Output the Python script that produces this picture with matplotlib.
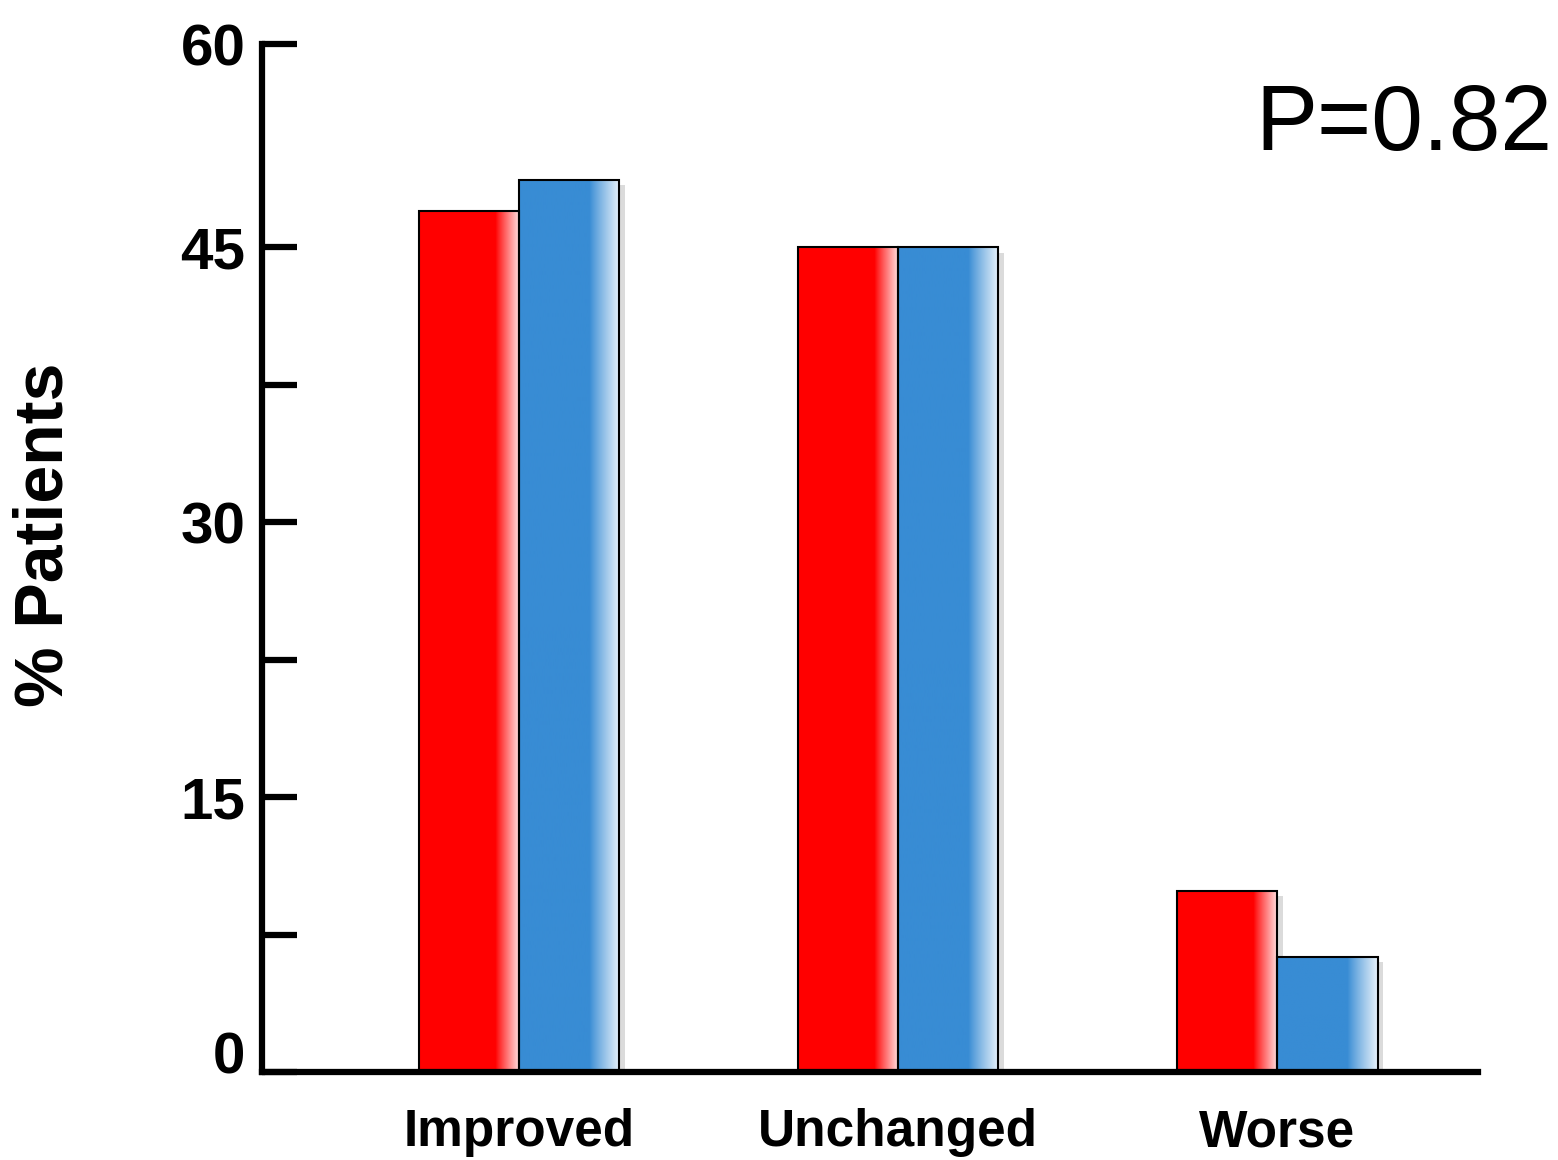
import numpy as np
import matplotlib.pyplot as plt
import matplotlib.patheffects as pe
import matplotlib.transforms as mtransforms

plt.rcParams['font.family'] = ['Liberation Sans', 'DejaVu Sans']

# Data
categories = ['Improved', 'Unchanged', 'Worse']
red_vals = [47.0, 45.0, 9.9]
blue_vals = [48.7, 45.0, 6.3]
p_text = 'P=0.82'
ytop = 56.1  # top of drawn axis, labelled "60" in the original

red = np.array([1.0, 0.0, 0.0])
blue = np.array([0x38, 0x8C, 0xD4]) / 255.0

fig = plt.figure(figsize=(15.58, 11.6), dpi=100)
ax = fig.add_axes([262/1558, 1-1072/1160, (1478-262)/1558, (1072-44)/1160])

x = np.arange(len(categories))
w = 0.265

def gradient_img(c, start):
    n = 200
    u = np.linspace(0, 1, n)
    t = np.clip((u - start) / (1 - start), 0, 1) ** 0.9 * 0.88
    img = c[None, :] * (1 - t[:, None]) + t[:, None]
    return img[None, :, :]

shadow = [pe.SimplePatchShadow(offset=(4, -4), shadow_rgbFace='0.45', alpha=0.25), pe.Normal()]
for xs, vals, c, st in [(x - w/2, red_vals, red, 0.76), (x + w/2, blue_vals, blue, 0.70)]:
    ax.bar(xs, vals, w, color=c, edgecolor='none', zorder=2, path_effects=shadow)
    for xi, v in zip(xs, vals):
        ax.imshow(gradient_img(c, st), extent=(xi - w/2, xi + w/2, 0, v),
                  aspect='auto', zorder=3, interpolation='bilinear')
    ax.bar(xs, vals, w, facecolor='none', edgecolor='black', linewidth=1.5, zorder=4)

ax.set_xlim(-0.678, 2.53)
ax.set_ylim(0, ytop)

for s in ['top', 'right']:
    ax.spines[s].set_visible(False)
for s in ['left', 'bottom']:
    ax.spines[s].set_linewidth(4.5)
    ax.spines[s].set_zorder(5)

ax.set_yticks([0, 15, 30, 45, ytop])
ax.set_yticklabels(['0', '15', '30', '45', '60'])
ax.set_yticks([7.5, 22.5, 37.5], minor=True)
ax.tick_params(axis='y', which='both', direction='in', length=25, width=4.5, pad=12)
ax.tick_params(axis='y', which='major', labelsize=42)
for lab in ax.get_yticklabels():
    lab.set_fontweight('bold')
# the "0" sits a little above the baseline in the original
zero = ax.get_yticklabels()[0]
zero.set_transform(zero.get_transform() + mtransforms.ScaledTranslation(0, 0.2, fig.dpi_scale_trans))

ax.set_xticks(x)
ax.set_xticklabels(categories, fontsize=37, fontweight='bold')
ax.tick_params(axis='x', length=0, pad=26)

fig.text(45/1558, 1-535/1160, '% Patients', rotation=90, fontsize=49,
         fontweight='bold', ha='center', va='center')
fig.text(1552/1558, 1-126/1160, p_text, fontsize=67, ha='right', va='center')

fig.savefig('out.png', dpi=100)
